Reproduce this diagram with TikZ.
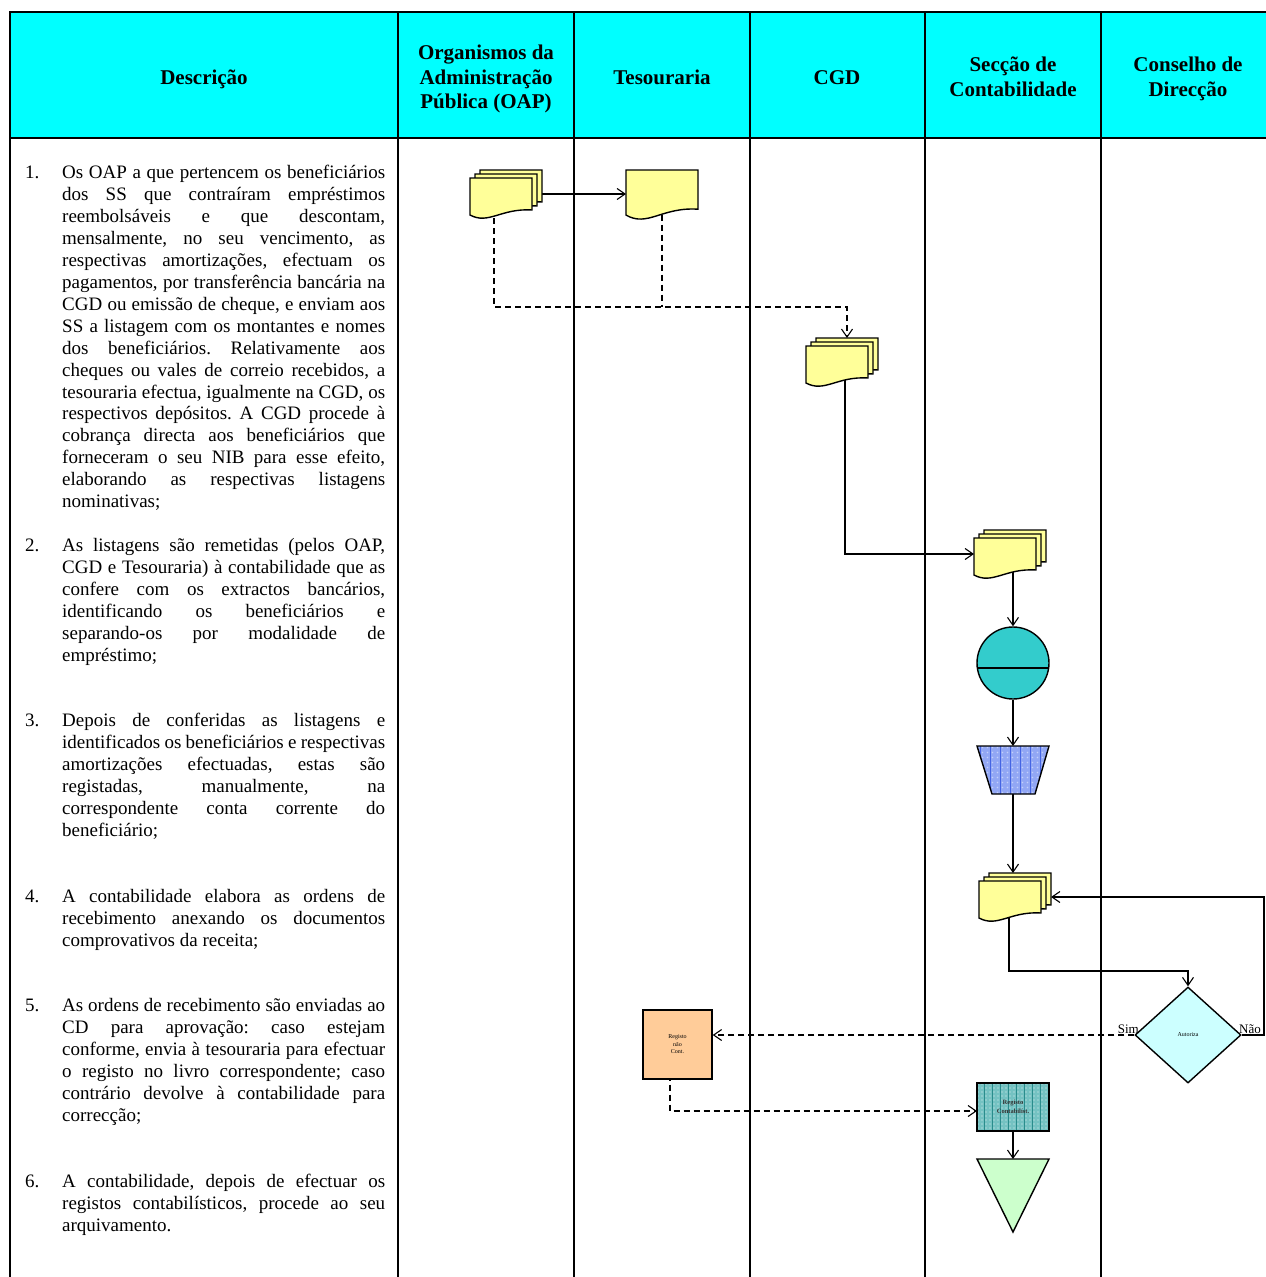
\documentclass[tikz,border=0pt]{standalone}
\usepackage{fontspec}
\setmainfont{Liberation Serif}
\usetikzlibrary{arrows.meta,shapes.geometric}
\pgfdeclarelayer{back}
\pgfsetlayers{back,main}

\definecolor{hdrcyan}{HTML}{00FFFF}
\definecolor{docyellow}{HTML}{FFFF99}
\definecolor{tealfill}{HTML}{33CCCC}
\definecolor{trapbase}{HTML}{92A7F4}
\definecolor{trapdot}{HTML}{C4D0FB}
\definecolor{trapline}{HTML}{4565E4}
\definecolor{orangefill}{HTML}{FFCC99}
\definecolor{regbase}{HTML}{74C2C2}
\definecolor{regdot}{HTML}{A8DADA}
\definecolor{regline}{HTML}{2A8C8C}
\definecolor{diafill}{HTML}{CCFFFF}
\definecolor{trifill}{HTML}{CCFFCC}

% invisible strut fixing the height of a paragraph's first line
\newcommand{\firstline}{\vrule height 14pt depth 0pt width 0pt\relax}
% settings for the justified description paragraphs
\newcommand{\parasetup}{\fontsize{19}{21.93}\selectfont\frenchspacing
  \hyphenpenalty=10000\exhyphenpenalty=10000\tolerance=10000\relax}

\tikzset{
  shapeline/.style={draw=black, line width=1.4pt, line join=miter},
  docpage/.style={shapeline, fill=docyellow},
  ghost/.style={inner sep=0pt, outer sep=0pt, draw=none},
  % stack of three pages, front page 62 x 40
  multidoc/.pic={
    \foreach \o in {10,5,0}
      \path[docpage, shift={(\o,-0.8*\o)}] (0,0) -- (62,0) -- (62,32)
        .. controls (31,30) and (18.6,47) .. (0,37) -- cycle;
    \node[ghost, minimum width=62pt, minimum height=40pt] (-front) at (31,20) {};
    \node[ghost, minimum width=72pt, minimum height=48pt] (-all) at (36,16) {};
  },
  % single page, 72 x 49
  singledoc/.pic={
    \path[docpage] (0,0) -- (72,0) -- (72,39.2)
      .. controls (36,36.75) and (21.6,57.5) .. (0,45.08) -- cycle;
    \node[ghost, minimum width=72pt, minimum height=49pt] (-front) at (36,24.5) {};
  }
}

\begin{document}
\begin{tikzpicture}[x=1pt, y=-1pt,
  rulew/.style={line width=2pt},
  conn/.style={line width=1.1pt},
  tip/.style={-{Straight Barb[length=8pt,width=11pt]}},
  arr/.style={conn, tip},
  dsh/.style={conn, dash pattern=on 6pt off 4pt},
  hdr/.style={font={\fontsize{21}{24.5}\selectfont\bfseries}, align=center, inner sep=0pt},
  para/.style={font={\parasetup}, text width=323pt, align=justify, inner sep=0pt, anchor=north west},
  num/.style={font={\fontsize{19}{21.93}\selectfont}, inner sep=0pt, anchor=base west},
  tiny/.style={font={\fontsize{6}{7.5}\selectfont}, align=center, inner sep=0pt},
  lbl/.style={font={\fontsize{13}{15}\selectfont}, inner sep=0pt},
]
\useasboundingbox (0,0) rectangle (1266,1277);

% header band and table rules
\fill[hdrcyan] (10,12) rectangle (1266,138);
\draw[rulew] (9,12) -- (1266,12);
\draw[rulew] (9,138) -- (1266,138);
\draw[rulew] (10,12) -- (10,1277);
\foreach \x in {398,574,750,925,1101}
  \draw[rulew] (\x,12) -- (\x,1277);

% column titles
\node[hdr] (h1) at (204,79) {Descrição};
\node[hdr] (h2) at (486,79) {Organismos da\\Administração\\Pública (OAP)};
\node[hdr] (h3) at (662,77.5) {Tesouraria};
\node[hdr] (h4) at (837,77.5) {CGD};
\node[hdr] (h5) at (1013,77) {Secção de\\Contabilidade};
\node[hdr] (h6) at (1188,79) {Conselho de\\Direcção};

% description column
\node[num] (n1) at (25,178.5) {1.};
\node[para] (p1) at (62,164.5) {\firstline Os OAP a que pertencem os beneficiários\linebreak
dos SS que contraíram empréstimos\linebreak
reembolsáveis e que descontam,\linebreak
mensalmente, no seu vencimento, as\linebreak
respectivas amortizações, efectuam os\linebreak
pagamentos, por transferência bancária na\linebreak
CGD ou emissão de cheque, e enviam aos\linebreak
SS a listagem com os montantes e nomes\linebreak
dos beneficiários. Relativamente aos\linebreak
cheques ou vales de correio recebidos, a\linebreak
tesouraria efectua, igualmente na CGD, os\linebreak
respectivos depósitos. A CGD procede à\linebreak
cobrança directa aos beneficiários que\linebreak
forneceram o seu NIB para esse efeito,\linebreak
elaborando as respectivas listagens\linebreak
nominativas;};

\node[num] (n2) at (25,551.5) {2.};
\node[para] (p2) at (62,537.5) {\firstline As listagens são remetidas (pelos OAP,\linebreak
CGD e Tesouraria) à contabilidade que as\linebreak
confere com os extractos bancários,\linebreak
identificando os beneficiários e\linebreak
separando-os por modalidade de\linebreak
empréstimo;};

\node[num] (n3) at (25,726.5) {3.};
\node[para] (p3) at (62,712.5) {\firstline Depois de conferidas as listagens e\linebreak
identificados os beneficiários e respectivas\linebreak
amortizações efectuadas, estas são\linebreak
registadas, manualmente, na\linebreak
correspondente conta corrente do\linebreak
beneficiário;};

\node[num] (n4) at (25,902.5) {4.};
\node[para] (p4) at (62,888.5) {\firstline A contabilidade elabora as ordens de\linebreak
recebimento anexando os documentos\linebreak
comprovativos da receita;};

\node[num] (n5) at (25,1011.5) {5.};
\node[para] (p5) at (62,997.5) {\firstline As ordens de recebimento são enviadas ao\linebreak
CD para aprovação: caso estejam\linebreak
conforme, envia à tesouraria para efectuar\linebreak
o registo no livro correspondente; caso\linebreak
contrário devolve à contabilidade para\linebreak
correcção;};

\node[num] (n6) at (25,1187.5) {6.};
\node[para] (p6) at (62,1173.5) {\firstline A contabilidade, depois de efectuar os\linebreak
registos contabilísticos, procede ao seu\linebreak
arquivamento.};

% documents
\pic (d1) at (470,178) {multidoc};
\pic (d2) at (626,170) {singledoc};
\pic (d3) at (806,346) {multidoc};
\pic (d4) at (974,538) {multidoc};
\pic (d5) at (979,881) {multidoc};

% check (circle split by a line)
\node[circle, shapeline, fill=tealfill, minimum size=72pt, inner sep=0pt] (circ) at (1013,663) {};
\draw[line width=1.4pt] (circ.188) -- (circ.352);

% manual operation (trapezium with grid texture)
\node[ghost, minimum width=72pt, minimum height=48pt] (trap) at (1013,770) {};
\begin{scope}
  \clip (977,746) -- (1049,746) -- (1035,794) -- (992,794) -- cycle;
  \fill[trapbase] (970,740) rectangle (1056,800);
  \foreach \i in {0,...,16} \foreach \j in {0,...,11}
    \fill[trapdot] (972.5+5*\i,742.5+5*\j) circle (0.8);
  \draw[trapline, line width=0.6pt] (970,740) grid[step=10] (1056,800);
\end{scope}
\draw[shapeline] (977,746) -- (1049,746) -- (1035,794) -- (992,794) -- cycle;

% decision
\node[diamond, shapeline, fill=diafill, minimum width=106pt, minimum height=96pt, inner sep=0pt, tiny] (dia) at (1188,1035) {Autoriza};
\node[lbl, anchor=base east] (sim) at (1139,1033.5) {Sim};
\node[lbl, anchor=base west] (nao) at (1239,1033.5) {Não};

% book entry in the treasury
\node[rectangle, shapeline, fill=orangefill, minimum width=69pt, minimum height=69pt, tiny] (rnc) at (677.5,1044.5) {Registo\\não\\Cont.};

% accounting entry (textured box)
\node[ghost, minimum width=72pt, minimum height=48pt] (rc) at (1013,1107) {};
\begin{scope}
  \clip (rc.south west) rectangle (rc.north east);
  \fill[regbase] (970,1078) rectangle (1056,1136);
  \foreach \i in {0,...,20} \foreach \j in {0,...,14}
    \fill[regdot] (974+4*\i,1080+4*\j) circle (0.8);
  \draw[regline, line width=0.55pt] (970,1078) grid[step=8] (1056,1136);
\end{scope}
\draw[shapeline] (rc.south west) rectangle (rc.north east);
\node[tiny, text=black!80, font={\fontsize{6.5}{9}\selectfont\bfseries}] (rctext) at (rc.center) {Registo\\Contabilíst.};

% archive
\node[ghost, minimum width=72pt, minimum height=73pt] (tri) at (1013,1195.5) {};
\path[shapeline, fill=trifill] (tri.north west) -- (tri.north east) -- (tri.south) -- cycle;

% bend points
\coordinate (a1) at (494,307);
\coordinate (a2) at (847,307);
\coordinate (a3) at (662,307);
\coordinate (b1) at (845,554);
\coordinate (g1) at (1009,971);
\coordinate (f1) at (1264,897);
\coordinate (i1) at (670,1111);

\begin{pgfonlayer}{back}
  \draw[arr] (d1-all.east) -- (d1-all.east -| d2-front.west);
  \draw[dsh] (a3 |- d2-front.center) -- (a3);
  \draw[dsh, tip] (a1 |- d1-front.center) -- (a1) -- (a2) -- (a2 |- d3-all.north);
  \draw[arr] (b1 |- d3-front.center) -- (b1) -- (b1 -| d4-front.west);
  \draw[arr] (circ.north |- d4-front.center) -- (circ.north);
  \draw[arr] (circ.south) -- (trap.north);
  \draw[arr] (trap.south) -- (trap.south |- d5-all.north);
  \draw[arr] (g1 |- d5-front.center) -- (g1) -| (dia.north);
  \draw[arr] (dia.east) -| (f1) -- (f1 -| d5-all.east);
  \draw[dsh, tip] (dia.west) -- (dia.west -| rnc.east);
  \draw[dsh, tip] (i1 |- rnc.center) -- (i1) -- (i1 -| rc.west);
  \draw[arr] (rc.south) -- (tri.north);
\end{pgfonlayer}
\end{tikzpicture}
\end{document}
